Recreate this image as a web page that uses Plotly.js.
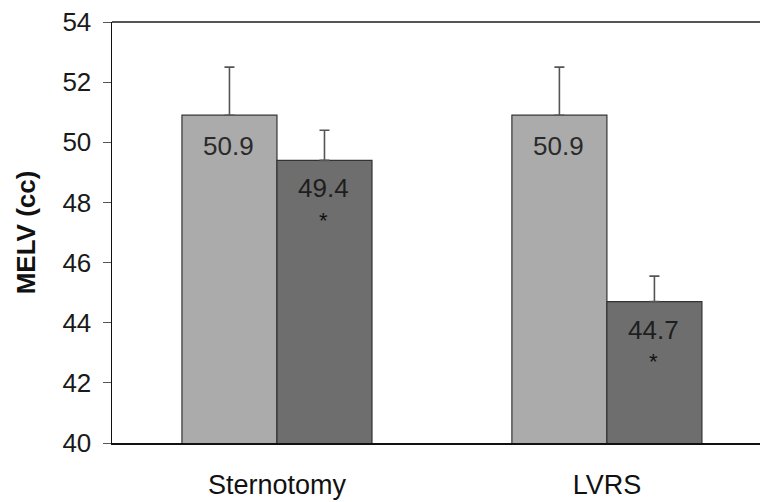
<!DOCTYPE html>
<html>
<head>
<meta charset="utf-8">
<script src="https://cdn.plot.ly/plotly-3.0.1.min.js"></script>
<style>html,body{margin:0;padding:0;overflow:hidden;background:#fff}</style>
</head>
<body>
<div id="chart" style="width:760px;height:502px"></div>
<script>
const categories = ["Sternotomy", "LVRS"];
const beforeValues = [50.9, 50.9];
const afterValues = [49.4, 44.7];
const beforeErrors = [1.6, 1.6];
const afterErrors = [1.0, 0.85];
const afterMarks = ["*", "*"];
const yTicks = [40, 42, 44, 46, 48, 50, 52, 54];

const FONT = "Liberation Sans, Arial, sans-serif";

const traces = [
  {
    type: "bar", x: categories, y: beforeValues, name: "Before",
    marker: {color: "#ababab", line: {color: "#333333", width: 1.2}},
    error_y: {type: "data", symmetric: false, array: beforeErrors, arrayminus: [0, 0], color: "#555555", thickness: 1.6, width: 5},
    hoverinfo: "skip"
  },
  {
    type: "bar", x: categories, y: afterValues, name: "After",
    marker: {color: "#6e6e6e", line: {color: "#333333", width: 1.2}},
    error_y: {type: "data", symmetric: false, array: afterErrors, arrayminus: [0, 0], color: "#555555", thickness: 1.6, width: 5},
    hoverinfo: "skip"
  }
];

const annotations = [];
categories.forEach((c, i) => {
  annotations.push({x: c, xref: "x", y: beforeValues[i], yref: "y", xshift: -48, yshift: -31,
    text: beforeValues[i].toFixed(1), showarrow: false, yanchor: "middle",
    font: {family: FONT, size: 26, color: "#2a2a2a"}});
  annotations.push({x: c, xref: "x", y: afterValues[i], yref: "y", xshift: 47, yshift: -28,
    text: afterValues[i].toFixed(1), showarrow: false, yanchor: "middle",
    font: {family: FONT, size: 26, color: "#1e1e1e"}});
  annotations.push({x: c, xref: "x", y: afterValues[i], yref: "y", xshift: 47, yshift: -60,
    text: afterMarks[i], showarrow: false, yanchor: "middle",
    font: {family: FONT, size: 22, color: "#111111"}});
});

const layout = {
  width: 760, height: 502,
  margin: {l: 112, r: 0, t: 22, b: 59, pad: 0},
  paper_bgcolor: "#ffffff", plot_bgcolor: "#ffffff",
  showlegend: false,
  barmode: "group", bargap: 0.424, bargroupgap: 0,
  xaxis: {
    type: "category", range: [-0.5, 1.464],
    showline: true, linecolor: "#111111", linewidth: 1.5,
    ticks: "", showgrid: false, zeroline: false,
    tickfont: {family: FONT, size: 27, color: "#111111"},
    ticklabelstandoff: 17
  },
  yaxis: {
    range: [40, 54], tickvals: yTicks, ticktext: yTicks.map(String),
    showline: true, linecolor: "#111111", linewidth: 1.5,
    ticks: "outside", ticklen: 8, tickcolor: "#555555", tickwidth: 1,
    showgrid: false, zeroline: false,
    tickfont: {family: FONT, size: 26, color: "#1a1a1a"},
    ticklabelstandoff: 6,
    title: {text: "<b>MELV (cc)</b>", font: {family: FONT, size: 26, color: "#111111"}, standoff: 19}
  },
  shapes: [
    {type: "line", xref: "paper", yref: "paper", x0: 0, x1: 1, y0: 1, y1: 1, line: {color: "#555555", width: 2}}
  ],
  annotations: annotations
};

Plotly.newPlot("chart", traces, layout, {displayModeBar: false, staticPlot: true});
</script>
</body>
</html>
